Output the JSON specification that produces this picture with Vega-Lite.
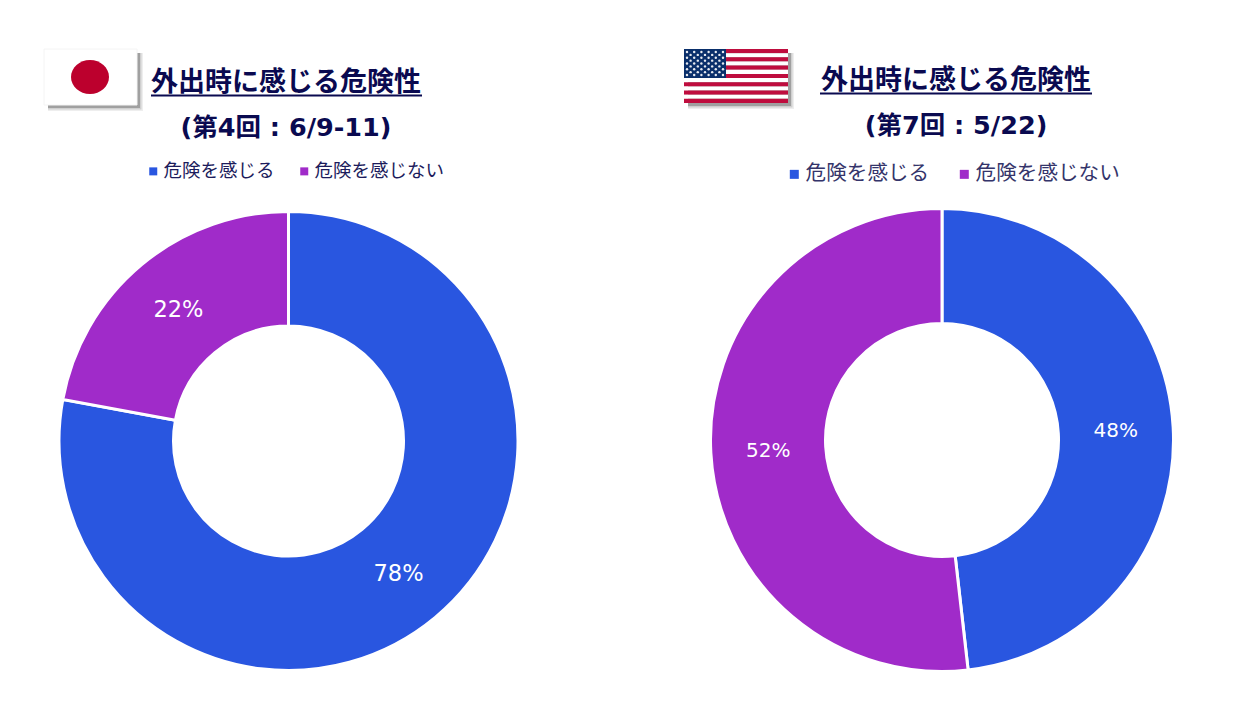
{
  "$schema": "https://vega.github.io/schema/vega-lite/v6.json",
  "background": "white",
  "padding": 0,
  "spacing": 66,
  "config": {"view": {"stroke": null}},
  "resolve": {"scale": {"color": "independent"}, "legend": {"color": "independent"}},
  "hconcat": [
    {
      "spacing": 0,
      "resolve": {"scale": {"color": "independent"}, "legend": {"color": "independent"}},
      "vconcat": [
        {
          "width": 577,
          "height": 154,
          "encoding": {
            "x": {"datum": 0, "type": "quantitative", "axis": null, "scale": {"domain": [0, 577], "range": [0, 577]}},
            "y": {"datum": 0, "type": "quantitative", "axis": null, "scale": {"domain": [0, 154], "range": [0, 154]}}
          },
          "layer": [
            {
              "data": {"values": [{"part": "shadow"}]},
              "mark": {"type": "rect", "color": "#eeeeee"},
              "encoding": {"x": {"datum": 48, "type": "quantitative"}, "x2": {"datum": 143}, "y": {"datum": 53, "type": "quantitative"}, "y2": {"datum": 111}}
            },
            {
              "data": {"values": [{"part": "shadow"}]},
              "mark": {"type": "rect", "color": "#cfcfcf"},
              "encoding": {"x": {"datum": 48, "type": "quantitative"}, "x2": {"datum": 141.5}, "y": {"datum": 53, "type": "quantitative"}, "y2": {"datum": 109.5}}
            },
            {
              "data": {"values": [{"part": "shadow"}]},
              "mark": {"type": "rect", "color": "#a0a0a0"},
              "encoding": {"x": {"datum": 48, "type": "quantitative"}, "x2": {"datum": 140}, "y": {"datum": 53, "type": "quantitative"}, "y2": {"datum": 108}}
            },
            {
              "data": {"values": [{"part": "flag"}]},
              "mark": {"type": "rect", "color": "#ffffff", "stroke": "#f4f4f4", "strokeWidth": 1},
              "encoding": {"x": {"datum": 44, "type": "quantitative"}, "x2": {"datum": 137}, "y": {"datum": 49, "type": "quantitative"}, "y2": {"datum": 105}}
            },
            {
              "data": {"values": [{"part": "sun"}]},
              "mark": {"type": "point", "shape": "M-1.118,0A1.118,1,0,1,1,1.118,0A1.118,1,0,1,1,-1.118,0Z", "filled": true, "opacity": 1, "color": "#bc002d", "size": 1156},
              "encoding": {"x": {"datum": 90, "type": "quantitative"}, "y": {"datum": 77, "type": "quantitative"}}
            },
            {
              "data": {"values": [{"label": "外出時に感じる危険性"}]},
              "mark": {"type": "text", "font": "Noto Sans CJK JP", "fontWeight": "bold", "fontSize": 27, "color": "#0a0a50", "align": "center", "baseline": "middle"},
              "encoding": {"x": {"datum": 286, "type": "quantitative"}, "y": {"datum": 83, "type": "quantitative"}, "text": {"field": "label"}}
            },
            {
              "data": {"values": [{"part": "underline"}]},
              "mark": {"type": "rule", "color": "#0a0a50", "strokeWidth": 2},
              "encoding": {"x": {"datum": 151, "type": "quantitative"}, "x2": {"datum": 422}, "y": {"datum": 95.5, "type": "quantitative"}}
            },
            {
              "data": {"values": [{"label": "(第4回 : 6/9-11)"}]},
              "mark": {"type": "text", "font": "DejaVu Sans, Noto Sans CJK JP", "fontWeight": "bold", "fontSize": 25.5, "color": "#0a0a50", "align": "center", "baseline": "middle"},
              "encoding": {"x": {"datum": 286, "type": "quantitative"}, "y": {"datum": 128, "type": "quantitative"}, "text": {"field": "label"}}
            }
          ]
        },
        {
          "width": 577,
          "height": 574,
          "data": {
            "values": [
              {"item": "危険を感じる", "rank": 1, "share": 77.9, "label": "78%"},
              {"item": "危険を感じない", "rank": 2, "share": 22.1, "label": "22%"}
            ]
          },
          "encoding": {
            "theta": {"field": "share", "type": "quantitative", "stack": true},
            "order": {"field": "rank", "type": "ordinal"}
          },
          "layer": [
            {
              "mark": {"type": "arc", "innerRadius": 115, "outerRadius": 229.5, "stroke": "white", "strokeWidth": 3},
              "encoding": {
                "color": {
                  "field": "item",
                  "type": "nominal",
                  "scale": {"domain": ["危険を感じる", "危険を感じない"], "range": ["#2956e0", "#a02bc9"]},
                  "legend": {
                    "title": null,
                    "orient": "none",
                    "direction": "horizontal",
                    "columns": 2,
                    "legendX": 144,
                    "legendY": 8,
                    "padding": 0,
                    "symbolType": "square",
                    "symbolSize": 64,
                    "symbolStrokeWidth": 0,
                    "labelFont": "Noto Sans CJK JP",
                    "labelFontSize": 18.5,
                    "labelColor": "#1c1c5c",
                    "labelOffset": 1,
                    "labelLimit": 200,
                    "columnPadding": 20
                  }
                }
              }
            },
            {
              "mark": {"type": "text", "radius": 172, "font": "DejaVu Sans", "fontSize": 22.5, "color": "white", "dy": 1},
              "encoding": {
                "text": {"field": "label"},
                "detail": {"field": "item"}
              }
            }
          ]
        }
      ]
    },
    {
      "spacing": 0,
      "resolve": {"scale": {"color": "independent"}, "legend": {"color": "independent"}},
      "vconcat": [
        {
          "width": 598,
          "height": 153,
          "resolve": {"scale": {"x": "independent", "y": "independent", "color": "independent"}},
          "layer": [
            {
              "data": {"values": [{"part": "shadow"}]},
              "mark": {"type": "rect", "color": "#eeeeee"},
              "encoding": {
                "x": {"datum": 688, "type": "quantitative", "axis": null, "scale": {"domain": [643, 1241], "range": [0, 598]}},
                "x2": {"datum": 794},
                "y": {"datum": 53, "type": "quantitative", "axis": null, "scale": {"domain": [0, 153], "range": [0, 153]}},
                "y2": {"datum": 109}
              }
            },
            {
              "data": {"values": [{"part": "shadow"}]},
              "mark": {"type": "rect", "color": "#cfcfcf"},
              "encoding": {
                "x": {"datum": 688, "type": "quantitative", "axis": null, "scale": {"domain": [643, 1241], "range": [0, 598]}},
                "x2": {"datum": 792.5},
                "y": {"datum": 53, "type": "quantitative", "axis": null, "scale": {"domain": [0, 153], "range": [0, 153]}},
                "y2": {"datum": 107.5}
              }
            },
            {
              "data": {"values": [{"part": "shadow"}]},
              "mark": {"type": "rect", "color": "#a0a0a0"},
              "encoding": {
                "x": {"datum": 688, "type": "quantitative", "axis": null, "scale": {"domain": [643, 1241], "range": [0, 598]}},
                "x2": {"datum": 791},
                "y": {"datum": 53, "type": "quantitative", "axis": null, "scale": {"domain": [0, 153], "range": [0, 153]}},
                "y2": {"datum": 106}
              }
            },
            {
              "data": {
                "values": [
                  {"stripe": 0, "band": "red"}, {"stripe": 1, "band": "white"}, {"stripe": 2, "band": "red"},
                  {"stripe": 3, "band": "white"}, {"stripe": 4, "band": "red"}, {"stripe": 5, "band": "white"},
                  {"stripe": 6, "band": "red"}, {"stripe": 7, "band": "white"}, {"stripe": 8, "band": "red"},
                  {"stripe": 9, "band": "white"}, {"stripe": 10, "band": "red"}, {"stripe": 11, "band": "white"},
                  {"stripe": 12, "band": "red"}
                ]
              },
              "mark": {"type": "rect"},
              "encoding": {
                "x": {"datum": 684, "type": "quantitative", "axis": null, "scale": {"domain": [643, 1241], "range": [0, 598]}},
                "x2": {"datum": 788},
                "y": {"field": "stripe", "type": "ordinal", "axis": null, "scale": {"range": [49, 103], "paddingInner": 0, "paddingOuter": 0}},
                "color": {"field": "band", "type": "nominal", "legend": null, "scale": {"domain": ["red", "white"], "range": ["#bf0d3e", "#ffffff"]}}
              }
            },
            {
              "data": {"values": [{"part": "canton"}]},
              "mark": {"type": "rect", "color": "#0a2f6b"},
              "encoding": {
                "x": {"datum": 684, "type": "quantitative", "axis": null, "scale": {"domain": [643, 1241], "range": [0, 598]}},
                "x2": {"datum": 726},
                "y": {"datum": 49, "type": "quantitative", "axis": null, "scale": {"domain": [0, 153], "range": [0, 153]}},
                "y2": {"datum": 78}
              }
            },
            {
              "data": {
                "values": [
                  {"row": 0, "col": 0}, {"row": 0, "col": 2}, {"row": 0, "col": 4}, {"row": 0, "col": 6}, {"row": 0, "col": 8}, {"row": 0, "col": 10},
                  {"row": 1, "col": 1}, {"row": 1, "col": 3}, {"row": 1, "col": 5}, {"row": 1, "col": 7}, {"row": 1, "col": 9},
                  {"row": 2, "col": 0}, {"row": 2, "col": 2}, {"row": 2, "col": 4}, {"row": 2, "col": 6}, {"row": 2, "col": 8}, {"row": 2, "col": 10},
                  {"row": 3, "col": 1}, {"row": 3, "col": 3}, {"row": 3, "col": 5}, {"row": 3, "col": 7}, {"row": 3, "col": 9},
                  {"row": 4, "col": 0}, {"row": 4, "col": 2}, {"row": 4, "col": 4}, {"row": 4, "col": 6}, {"row": 4, "col": 8}, {"row": 4, "col": 10},
                  {"row": 5, "col": 1}, {"row": 5, "col": 3}, {"row": 5, "col": 5}, {"row": 5, "col": 7}, {"row": 5, "col": 9},
                  {"row": 6, "col": 0}, {"row": 6, "col": 2}, {"row": 6, "col": 4}, {"row": 6, "col": 6}, {"row": 6, "col": 8}, {"row": 6, "col": 10},
                  {"row": 7, "col": 1}, {"row": 7, "col": 3}, {"row": 7, "col": 5}, {"row": 7, "col": 7}, {"row": 7, "col": 9},
                  {"row": 8, "col": 0}, {"row": 8, "col": 2}, {"row": 8, "col": 4}, {"row": 8, "col": 6}, {"row": 8, "col": 8}, {"row": 8, "col": 10}
                ]
              },
              "mark": {"type": "point", "shape": "circle", "filled": true, "opacity": 0.9, "color": "#ffffff", "size": 6},
              "encoding": {
                "x": {"field": "col", "type": "quantitative", "axis": null, "scale": {"domain": [0, 10], "range": [44, 80]}},
                "y": {"field": "row", "type": "quantitative", "axis": null, "scale": {"domain": [0, 8], "range": [52, 75]}}
              }
            },
            {
              "data": {"values": [{"label": "外出時に感じる危険性"}]},
              "mark": {"type": "text", "font": "Noto Sans CJK JP", "fontWeight": "bold", "fontSize": 27, "color": "#0a0a50", "align": "center", "baseline": "middle"},
              "encoding": {
                "x": {"datum": 956, "type": "quantitative", "axis": null, "scale": {"domain": [643, 1241], "range": [0, 598]}},
                "y": {"datum": 81, "type": "quantitative", "axis": null, "scale": {"domain": [0, 153], "range": [0, 153]}},
                "text": {"field": "label"}
              }
            },
            {
              "data": {"values": [{"part": "underline"}]},
              "mark": {"type": "rule", "color": "#0a0a50", "strokeWidth": 2},
              "encoding": {
                "x": {"datum": 820, "type": "quantitative", "axis": null, "scale": {"domain": [643, 1241], "range": [0, 598]}},
                "x2": {"datum": 1092},
                "y": {"datum": 93.5, "type": "quantitative", "axis": null, "scale": {"domain": [0, 153], "range": [0, 153]}}
              }
            },
            {
              "data": {"values": [{"label": "(第7回 : 5/22)"}]},
              "mark": {"type": "text", "font": "DejaVu Sans, Noto Sans CJK JP", "fontWeight": "bold", "fontSize": 25.5, "color": "#0a0a50", "align": "center", "baseline": "middle"},
              "encoding": {
                "x": {"datum": 956, "type": "quantitative", "axis": null, "scale": {"domain": [643, 1241], "range": [0, 598]}},
                "y": {"datum": 125.5, "type": "quantitative", "axis": null, "scale": {"domain": [0, 153], "range": [0, 153]}},
                "text": {"field": "label"}
              }
            }
          ]
        },
        {
          "width": 598,
          "height": 574,
          "data": {
            "values": [
              {"item": "危険を感じる", "rank": 1, "share": 48.2, "label": "48%"},
              {"item": "危険を感じない", "rank": 2, "share": 51.8, "label": "52%"}
            ]
          },
          "encoding": {
            "theta": {"field": "share", "type": "quantitative", "stack": true},
            "order": {"field": "rank", "type": "ordinal"}
          },
          "layer": [
            {
              "mark": {"type": "arc", "innerRadius": 116.5, "outerRadius": 231.5, "stroke": "white", "strokeWidth": 3},
              "encoding": {
                "color": {
                  "field": "item",
                  "type": "nominal",
                  "scale": {"domain": ["危険を感じる", "危険を感じない"], "range": ["#2956e0", "#a02bc9"]},
                  "legend": {
                    "title": null,
                    "orient": "none",
                    "direction": "horizontal",
                    "columns": 2,
                    "legendX": 141,
                    "legendY": 11,
                    "padding": 0,
                    "symbolType": "square",
                    "symbolSize": 81,
                    "symbolStrokeWidth": 0,
                    "labelFont": "Noto Sans CJK JP",
                    "labelFontSize": 20.6,
                    "labelColor": "#34346a",
                    "labelOffset": 1,
                    "labelLimit": 200,
                    "columnPadding": 24
                  }
                }
              }
            },
            {
              "mark": {"type": "text", "radius": 174, "font": "DejaVu Sans", "fontSize": 20, "color": "white", "dy": 1},
              "encoding": {
                "text": {"field": "label"},
                "detail": {"field": "item"}
              }
            }
          ]
        }
      ]
    }
  ]
}
